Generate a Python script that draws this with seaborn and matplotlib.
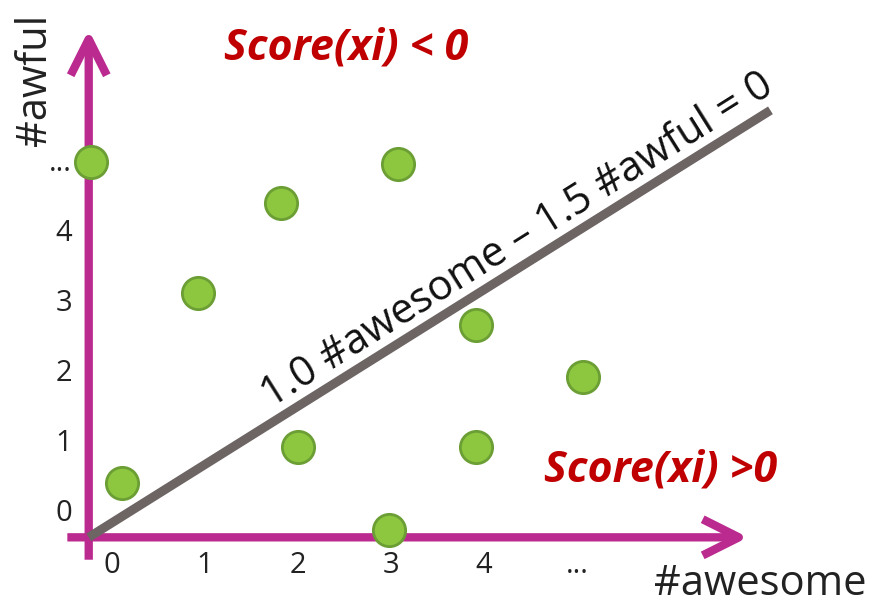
import matplotlib
matplotlib.use("Agg")
import matplotlib.pyplot as plt
import seaborn as sns
import pandas as pd

# data points (#awesome, #awful)
awesome = [-0.23, 3.08, 1.82, 0.92, 3.91, 5.06, 2.00, 3.91, 0.11, 2.98]
awful = [4.97, 4.94, 4.39, 3.10, 2.64, 1.90, 0.90, 0.90, 0.39, -0.29]

# decision boundary drawn in the picture
boundary_x = [-0.25, 7.08]
boundary_y = [-0.39, 5.71]

# axis arrows
origin = (-0.25, -0.39)
x_arrow_start = -0.48
x_arrow_end = 6.84
y_arrow_start = -0.71
y_arrow_end = 6.86

tick_pos = [0, 1, 2, 3, 4, 5]
tick_labels = ["0", "1", "2", "3", "4", "..."]

MAGENTA = "#bb2a8e"
GREEN = "#8dc63f"
GREEN_EDGE = "#6b9e34"
LINE_GRAY = "#6d6464"
RED = "#c00000"

sns.set_style("white")
plt.rcParams["font.family"] = ["Open Sans", "DejaVu Sans"]

df = pd.DataFrame({"awesome": awesome, "awful": awful})
bd = pd.DataFrame({"x": boundary_x, "y": boundary_y})

fig = plt.figure(figsize=(8.72, 6.06), dpi=100)
ax = fig.add_axes([0, 0, 1, 1])
ax.set_xlim(-1.204, 8.172)
ax.set_ylim(-1.371, 7.286)

# axes arrows
arrow_kw = dict(arrowstyle="->,head_length=1.3,head_width=0.65", lw=6,
                color=MAGENTA, mutation_scale=20, shrinkA=0, shrinkB=0,
                capstyle="butt")
ax.annotate("", xy=(x_arrow_end, origin[1]), xytext=(x_arrow_start, origin[1]),
            arrowprops=arrow_kw, zorder=1)
ax.annotate("", xy=(origin[0], y_arrow_end), xytext=(origin[0], y_arrow_start),
            arrowprops=arrow_kw, zorder=1)

sns.lineplot(data=bd, x="x", y="y", ax=ax, color=LINE_GRAY, lw=6.5,
             solid_capstyle="butt", zorder=2)

sns.scatterplot(data=df, x="awesome", y="awful", ax=ax, s=540, color=GREEN,
                edgecolor=GREEN_EDGE, linewidth=2, zorder=3)

for sp in ["top", "right"]:
    ax.spines[sp].set_visible(False)
ax.spines["bottom"].set_position(("data", origin[1]))
ax.spines["left"].set_position(("data", origin[0]))
ax.spines["bottom"].set_color("none")
ax.spines["left"].set_color("none")
ax.set_xticks(tick_pos, tick_labels)
ax.set_yticks(tick_pos, tick_labels)
ax.tick_params(axis="both", length=0, labelsize=21, colors="#222222")
ax.tick_params(axis="x", pad=10)
ax.tick_params(axis="y", pad=12)
ax.set_xlabel("")
ax.set_ylabel("")

ax.text(0.872, 0.037, "#awesome", transform=fig.transFigure, fontsize=30,
        ha="center", va="center", color="#222222")
ax.text(0.04, 0.868, "#awful", transform=fig.transFigure, fontsize=30,
        rotation=90, ha="center", va="center", color="#222222")

ax.text(0.593, 0.604, "1.0 #awesome \u2013 1.5 #awful = 0", transform=fig.transFigure,
        fontsize=30, rotation=32.1, rotation_mode="anchor", ha="center",
        va="center", color="#111111")

ax.text(0.397, 0.921, "Score(xi) < 0", transform=fig.transFigure, fontsize=31,
        fontweight="bold", fontstyle="italic", color=RED, ha="center", va="center")
ax.text(0.757, 0.224, "Score(xi) >0", transform=fig.transFigure, fontsize=31,
        fontweight="bold", fontstyle="italic", color=RED, ha="center", va="center")

fig.savefig("out.png", dpi=100)
